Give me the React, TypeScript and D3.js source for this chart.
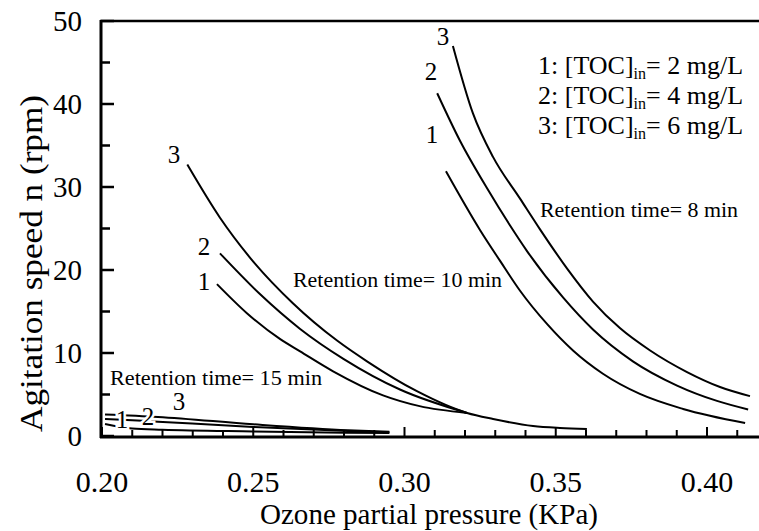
import React from "react";
import * as d3 from "d3";

// ---- data (x: ozone partial pressure KPa, y: agitation speed rpm) ----
const rt8_1: [number, number][] = [[0.3137, 31.9], [0.325, 24.8], [0.3316, 21.1], [0.3382, 17.5], [0.3471, 13.5], [0.3557, 10.3], [0.3656, 7.5], [0.3778, 5.07], [0.3921, 3.26], [0.4126, 1.57]];
const rt8_2: [number, number][] = [[0.3108, 41.3], [0.3183, 35.6], [0.3273, 29.84], [0.3349, 25.36], [0.3405, 22.28], [0.3524, 16.69], [0.3623, 12.83], [0.3755, 9.0], [0.3901, 6.08], [0.4033, 4.23], [0.4136, 3.2]];
const rt8_3: [number, number][] = [[0.316, 47.0], [0.3226, 38.9], [0.3293, 33.6], [0.3382, 28.6], [0.3448, 24.9], [0.3537, 20.2], [0.3623, 16.2], [0.3712, 13.0], [0.3812, 10.3], [0.3934, 7.7], [0.4043, 5.9], [0.4142, 4.8]];

const rt10_1: [number, number][] = [[0.238, 18.3], [0.2479, 14.8], [0.2588, 11.7], [0.2655, 10.2], [0.2764, 7.8], [0.2929, 4.9], [0.305, 3.6], [0.3207, 2.78]];
const rt10_2: [number, number][] = [[0.239, 22.0], [0.2522, 17.1], [0.2655, 12.9], [0.2798, 9.3], [0.2985, 5.6], [0.3207, 2.78]];
const rt10_3: [number, number][] = [[0.2282, 32.7], [0.239, 26.3], [0.2489, 21.5], [0.2631, 16.0], [0.2777, 11.5], [0.2876, 9.0], [0.3041, 5.4], [0.3207, 2.78], [0.3293, 2.05], [0.3425, 1.2], [0.3514, 0.97], [0.3603, 0.85]];

const rt15_1: [number, number][] = [[0.201, 1.45], [0.21, 0.9], [0.22, 0.75], [0.25, 0.55], [0.28, 0.4], [0.295, 0.35]];
const rt15_2: [number, number][] = [[0.201, 2.05], [0.21, 1.9], [0.2185, 1.73], [0.25, 1.09], [0.2813, 0.6], [0.295, 0.45]];
const rt15_3: [number, number][] = [[0.201, 2.6], [0.2185, 2.3], [0.25, 1.41], [0.2813, 0.69], [0.295, 0.5]];

const xTickValues = d3.range(20, 42).map((i) => i / 100);
const xMajorValues = [0.2, 0.25, 0.3, 0.35, 0.4];
const xTickLabels = ["0.20", "0.25", "0.30", "0.35", "0.40"];
const yMinorValues = [5, 15, 25, 35, 45];
const yMajorValues = [0, 10, 20, 30, 40, 50];
const yTickLabels = ["0", "10", "20", "30", "40", "50"];

const legendLines = ["2 mg/L", "4 mg/L", "6 mg/L"];

const FONT = "'Liberation Serif', 'Times New Roman', Times, 'DejaVu Serif', serif";

export default function App() {
  const x = d3.scaleLinear().domain([0.2, 0.4]).range([102, 707]);
  const y = d3.scaleLinear().domain([0, 50]).range([436, 21]);
  const line = d3
    .line<[number, number]>()
    .x((d) => x(d[0]))
    .y((d) => y(d[1]))
    .curve(d3.curveMonotoneX);

  const curves = [rt8_1, rt8_2, rt8_3, rt10_1, rt10_2, rt10_3, rt15_1, rt15_2, rt15_3];
  const ts = { fontFamily: FONT };

  const curveLabel = (t: string, cx: number, by: number, halo = false) => (
    <text
      key={t + cx}
      x={cx}
      y={by}
      textAnchor="middle"
      fontSize={25}
      style={ts}
      fill="#000"
      stroke={halo ? "#fff" : "none"}
      strokeWidth={halo ? 5 : 0}
      paintOrder="stroke"
    >
      {t}
    </text>
  );

  return (
    <svg
      width={759}
      height={531}
      style={{ position: "absolute", left: 0, top: 0, background: "#fff", fontFamily: FONT }}
    >
      <rect x={0} y={0} width={759} height={531} fill="#fff" />
      {/* curves */}
      {curves.map((c, i) => (
        <path key={i} d={line(c) || ""} fill="none" stroke="#000" strokeWidth={2} />
      ))}

      {/* axes */}
      <line x1={101} y1={20} x2={101} y2={438} stroke="#000" strokeWidth={3} />
      <line x1={100} y1={437} x2={759} y2={437} stroke="#000" strokeWidth={3} />
      <line x1={100} y1={21} x2={759} y2={21} stroke="#000" strokeWidth={2.5} />

      {xTickValues.map((v, i) => {
        const major = xMajorValues.some((m) => Math.abs(m - v) < 1e-6);
        return (
          <line
            key={"xt" + i}
            x1={x(v)}
            x2={x(v)}
            y1={437}
            y2={437 - (major ? 10 : 7)}
            stroke="#000"
            strokeWidth={2}
          />
        );
      })}
      {yMajorValues.map((v, i) => (
        <line key={"ytM" + i} x1={101} x2={114} y1={y(v)} y2={y(v)} stroke="#000" strokeWidth={2.5} />
      ))}
      {yMinorValues.map((v, i) => (
        <line key={"ytm" + i} x1={101} x2={110} y1={y(v)} y2={y(v)} stroke="#000" strokeWidth={2.5} />
      ))}

      {xMajorValues.map((v, i) => (
        <text key={"xl" + i} x={x(v)} y={492} textAnchor="middle" fontSize={30} style={ts} fill="#000">
          {xTickLabels[i]}
        </text>
      ))}
      {yMajorValues.map((v, i) => (
        <text key={"yl" + i} x={82} y={y(v) + 10} textAnchor="end" fontSize={29} style={ts} fill="#000">
          {yTickLabels[i]}
        </text>
      ))}

      <text x={260} y={524} fontSize={29} style={ts} fill="#000" textLength={338} lengthAdjust="spacingAndGlyphs">
        Ozone partial pressure (KPa)
      </text>
      <text
        transform={`translate(42,432) rotate(-90)`}
        fontSize={32}
        style={ts}
        fill="#000"
        textLength={337}
        lengthAdjust="spacingAndGlyphs"
      >
        Agitation speed n (rpm)
      </text>

      {/* retention time labels */}
      <text x={110} y={385} fontSize={22} style={ts} fill="#000" textLength={212} lengthAdjust="spacingAndGlyphs">
        Retention time= 15 min
      </text>
      <text x={293} y={287} fontSize={22} style={ts} fill="#000" textLength={209} lengthAdjust="spacingAndGlyphs">
        Retention time= 10 min
      </text>
      <text x={540} y={217} fontSize={22} style={ts} fill="#000" textLength={198} lengthAdjust="spacingAndGlyphs">
        Retention time= 8 min
      </text>

      {/* legend */}
      {legendLines.map((t, i) => (
        <text key={"lg" + i} x={538} y={74 + i * 30} fontSize={26} style={ts} fill="#000">
          {`${i + 1}: [TOC]`}
          <tspan fontSize={16} dy={5}>in</tspan>
          <tspan dy={-5}>{`= ${t}`}</tspan>
        </text>
      ))}

      {/* curve labels */}
      {curveLabel("3", 443, 45)}
      {curveLabel("2", 431, 80)}
      {curveLabel("1", 432, 143)}
      {curveLabel("3", 174, 163)}
      {curveLabel("2", 204, 255)}
      {curveLabel("1", 204, 290)}
      {curveLabel("1", 122, 428, true)}
      {curveLabel("2", 148, 425, true)}
      {curveLabel("3", 179, 410)}
    </svg>
  );
}
